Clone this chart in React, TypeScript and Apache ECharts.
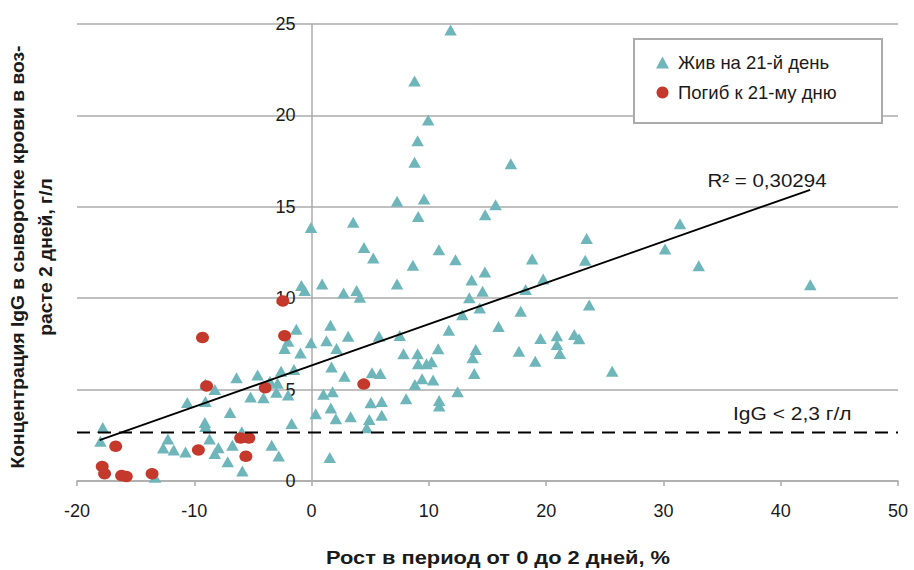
import { useEffect, useRef } from "react";
import * as echarts from "echarts";

// ---- Data ----
const aliveName = "Жив на 21-й день";
const deadName = "Погиб к 21-му дню";

const aliveX = [
  -1.3, -2.0, -2.3, -0.95, -6.4, -4.6, -3.55, -2.6, -1.5, -2.9, -2.0, -3.0, -4.1, -5.2, -8.25, -9.05, -9.05,
  -10.6, -6.95, -1.7, -9.1, -9.05, -5.95, -17.8, -18.0, -12.25, -12.65, -11.75, -10.75, -8.7, -7.95, -8.25,
  -6.75, -7.15, -5.9, -3.4, -2.8, -13.35,
  7.29, 9.59, 9.09, 14.8, 15.69, -0.05, 3.55, 4.47, 5.26, 10.86, 12.27, 8.64, 18.81, 14.78, 13.65, 19.75,
  -0.87, -0.59, 0.9, 2.73, 3.84, 4.12, 7.29, 13.45, 14.58, 18.25, 14.34, 12.85, 17.83, 1.61, 3.12, 1.27,
  -0.05, 2.13, 5.75, 7.52, 11.7, 15.94, 19.52, 20.92, 20.92, 7.84, 9.04, 10.79, 14.0, 13.73, 17.68, 19.07,
  9.09, 9.8, 10.23, 1.7, 2.81, 5.15, 5.86, 13.87, 8.81, 9.42, 10.36, 1.01, 1.79, 12.45, 1.64, 0.35, 2.07,
  3.33, 5.04, 5.98, 5.98, 4.92, 4.7, 8.06, 10.88, 10.88, 1.55,
  11.85, 8.78, 9.94, 9.04, 8.78, 16.99,
  31.41, 23.45, 30.14, 23.33, 33.01, 42.52, 23.67, 21.17, 22.4, 22.81, 25.63,
];
const aliveY = [
  8.3, 7.65, 7.25, 7.0, 5.65, 5.8, 5.45, 6.0, 6.1, 5.35, 4.7, 4.85, 4.55, 4.6, 5.0, 5.3, 4.35,
  4.3, 3.75, 3.15, 3.2, 2.98, 2.7, 2.92, 2.18, 2.3, 1.8, 1.7, 1.58, 2.3, 1.82, 1.5,
  1.95, 1.05, 0.55, 1.95, 1.37, 0.2,
  15.3, 15.42, 14.47, 14.57, 15.11, 13.87, 14.15, 12.78, 12.2, 12.65, 12.1, 11.8, 12.15, 11.44, 11.0, 11.05,
  10.69, 10.42, 10.78, 10.29, 10.42, 10.05, 10.78, 10.02, 10.38, 10.47, 9.47, 9.1, 9.28, 8.52, 7.92, 7.67,
  7.56, 7.25, 7.92, 7.96, 8.25, 8.45, 7.8, 7.95, 7.47, 6.96, 6.96, 7.23, 7.19, 6.74, 7.1, 6.55,
  6.41, 6.41, 6.52, 6.23, 5.73, 5.92, 5.88, 5.88, 5.28, 5.59, 5.52, 4.74, 4.88, 4.88, 4.0, 3.68, 3.41,
  3.52, 4.28, 4.35, 3.59, 3.37, 2.91, 4.5, 4.41, 4.1, 1.28,
  24.67, 21.88, 19.75, 18.62, 17.44, 17.35,
  14.07, 13.26, 12.69, 12.07, 11.78, 10.74, 9.63, 6.97, 8.01, 7.78, 6.0,
];

const deadX = [-9.3, -2.3, -2.45, -8.95, -3.95, -16.7, -6.05, -5.35, -9.65, -5.6, -17.85, -17.65, -16.2, -15.8, -13.6, 4.45];
const deadY = [7.85, 7.95, 9.85, 5.2, 5.1, 1.9, 2.35, 2.35, 1.7, 1.35, 0.8, 0.4, 0.3, 0.25, 0.4, 5.3];

// Linear trend (endpoints as drawn) and threshold line
const trendX = [-18.07, 42.51];
const trendY = [2.24, 15.93];
const trendLabel = "R² = 0,30294";

const thresholdX = [-20, 50];
const thresholdY = [2.65, 2.65];
const thresholdLabel = "IgG < 2,3 г/л";

const xAxisMin = -20;
const xAxisMax = 50;
const xAxisStep = 10;
const yAxisMin = 0;
const yAxisMax = 25;
const yAxisStep = 5;

const xTitle = "Рост в период от 0 до 2 дней, %";
const yTitle = "Концентрация IgG в сыворотке крови в воз-\nрасте 2 дней, г/л";

const zip = (xs: number[], ys: number[]) => xs.map((x, i) => [x, ys[i]]);

const GRID_LEFT = 77;
const GRID_RIGHT = 16;
const CHART_W = 914;
const CHART_H = 570;

export default function App() {
  const ref = useRef<HTMLDivElement>(null);

  useEffect(() => {
    document.body.style.margin = "0";
    const chart = echarts.init(ref.current!, null, { renderer: "svg" });
    const font = '"Liberation Sans", Arial, Helvetica, sans-serif';
    const gridColor = "#ababab";

    // shift the y axis (line + labels) so it sits at x = 0 like the reference
    const plotW = CHART_W - GRID_LEFT - GRID_RIGHT;
    const zeroOffset = (plotW * (0 - xAxisMin)) / (xAxisMax - xAxisMin);

    chart.setOption({
      animation: false,
      backgroundColor: "#ffffff",
      textStyle: { fontFamily: font },
      grid: { left: GRID_LEFT, right: GRID_RIGHT, top: 24, bottom: 89 },
      xAxis: {
        type: "value",
        min: xAxisMin,
        max: xAxisMax,
        interval: xAxisStep,
        axisLine: { show: true, lineStyle: { color: gridColor, width: 1.5 } },
        axisTick: { show: true, length: 5, lineStyle: { color: gridColor, width: 1.5 } },
        axisLabel: { fontSize: 18, color: "#1a1a1a", margin: 21, fontFamily: font },
        splitLine: { show: false },
      },
      yAxis: {
        type: "value",
        min: yAxisMin,
        max: yAxisMax,
        interval: yAxisStep,
        offset: -zeroOffset,
        axisLine: { show: true, onZero: false, lineStyle: { color: gridColor, width: 1.5 } },
        axisTick: { show: false },
        axisLabel: { fontSize: 18, color: "#1a1a1a", margin: 16, fontFamily: font },
        splitLine: { show: true, lineStyle: { color: gridColor, width: 1.5 } },
      },
      legend: {
        orient: "vertical",
        left: 651,
        top: 48,
        itemWidth: 13,
        itemHeight: 12,
        itemGap: 11,
        data: [aliveName, deadName],
        textStyle: { fontSize: 18.5, color: "#1a1a1a", lineHeight: 18, fontFamily: font, padding: [0, 0, 0, 4] },
        z: 6,
      },
      graphic: [
        {
          type: "rect",
          z: 5,
          shape: { x: 634, y: 39, width: 248, height: 84 },
          style: { fill: "#ffffff", stroke: "#ababab", lineWidth: 2 },
        },
        {
          type: "text",
          z: 6,
          x: 767,
          y: 180,
          scaleX: 1.08,
          style: { text: trendLabel, fontSize: 19, fontFamily: font, fill: "#1a1a1a", align: "center", verticalAlign: "middle" },
        },
        {
          type: "text",
          z: 6,
          x: 733,
          y: 414,
          scaleX: 1.2,
          style: { text: thresholdLabel, fontSize: 17.5, fontFamily: font, fill: "#1a1a1a", align: "left", verticalAlign: "middle" },
        },
        {
          type: "text",
          z: 6,
          x: 498,
          y: 557,
          scaleX: 1.15,
          style: { text: xTitle, fontSize: 19, fontWeight: "bold", fontFamily: font, fill: "#1a1a1a", align: "center", verticalAlign: "middle" },
        },
        {
          type: "text",
          z: 6,
          x: 32,
          y: 257,
          rotation: Math.PI / 2,
          scaleX: 1.07,
          style: {
            text: yTitle,
            fontSize: 18,
            fontWeight: "bold",
            fontFamily: font,
            fill: "#1a1a1a",
            align: "center",
            verticalAlign: "middle",
            lineHeight: 28,
          },
        },
      ],
      series: [
        {
          name: aliveName,
          type: "scatter",
          symbol: "triangle",
          symbolSize: [12.5, 11],
          itemStyle: { color: "#6fb6bb", opacity: 1 },
          data: zip(aliveX, aliveY),
          z: 2,
        },
        {
          name: deadName,
          type: "scatter",
          symbol: "circle",
          symbolSize: [13, 11.5],
          itemStyle: { color: "#c4392b", opacity: 1 },
          data: zip(deadX, deadY),
          z: 3,
        },
        {
          name: "trend",
          type: "line",
          data: zip(trendX, trendY),
          showSymbol: false,
          symbol: "none",
          silent: true,
          lineStyle: { color: "#000000", width: 1.8 },
          z: 4,
        },
        {
          name: "threshold",
          type: "line",
          data: zip(thresholdX, thresholdY),
          showSymbol: false,
          symbol: "none",
          silent: true,
          lineStyle: { color: "#000000", width: 2, type: [13, 8] },
          z: 4,
        },
      ],
    });

    return () => chart.dispose();
  }, []);

  return <div ref={ref} style={{ width: CHART_W, height: CHART_H }} />;
}
